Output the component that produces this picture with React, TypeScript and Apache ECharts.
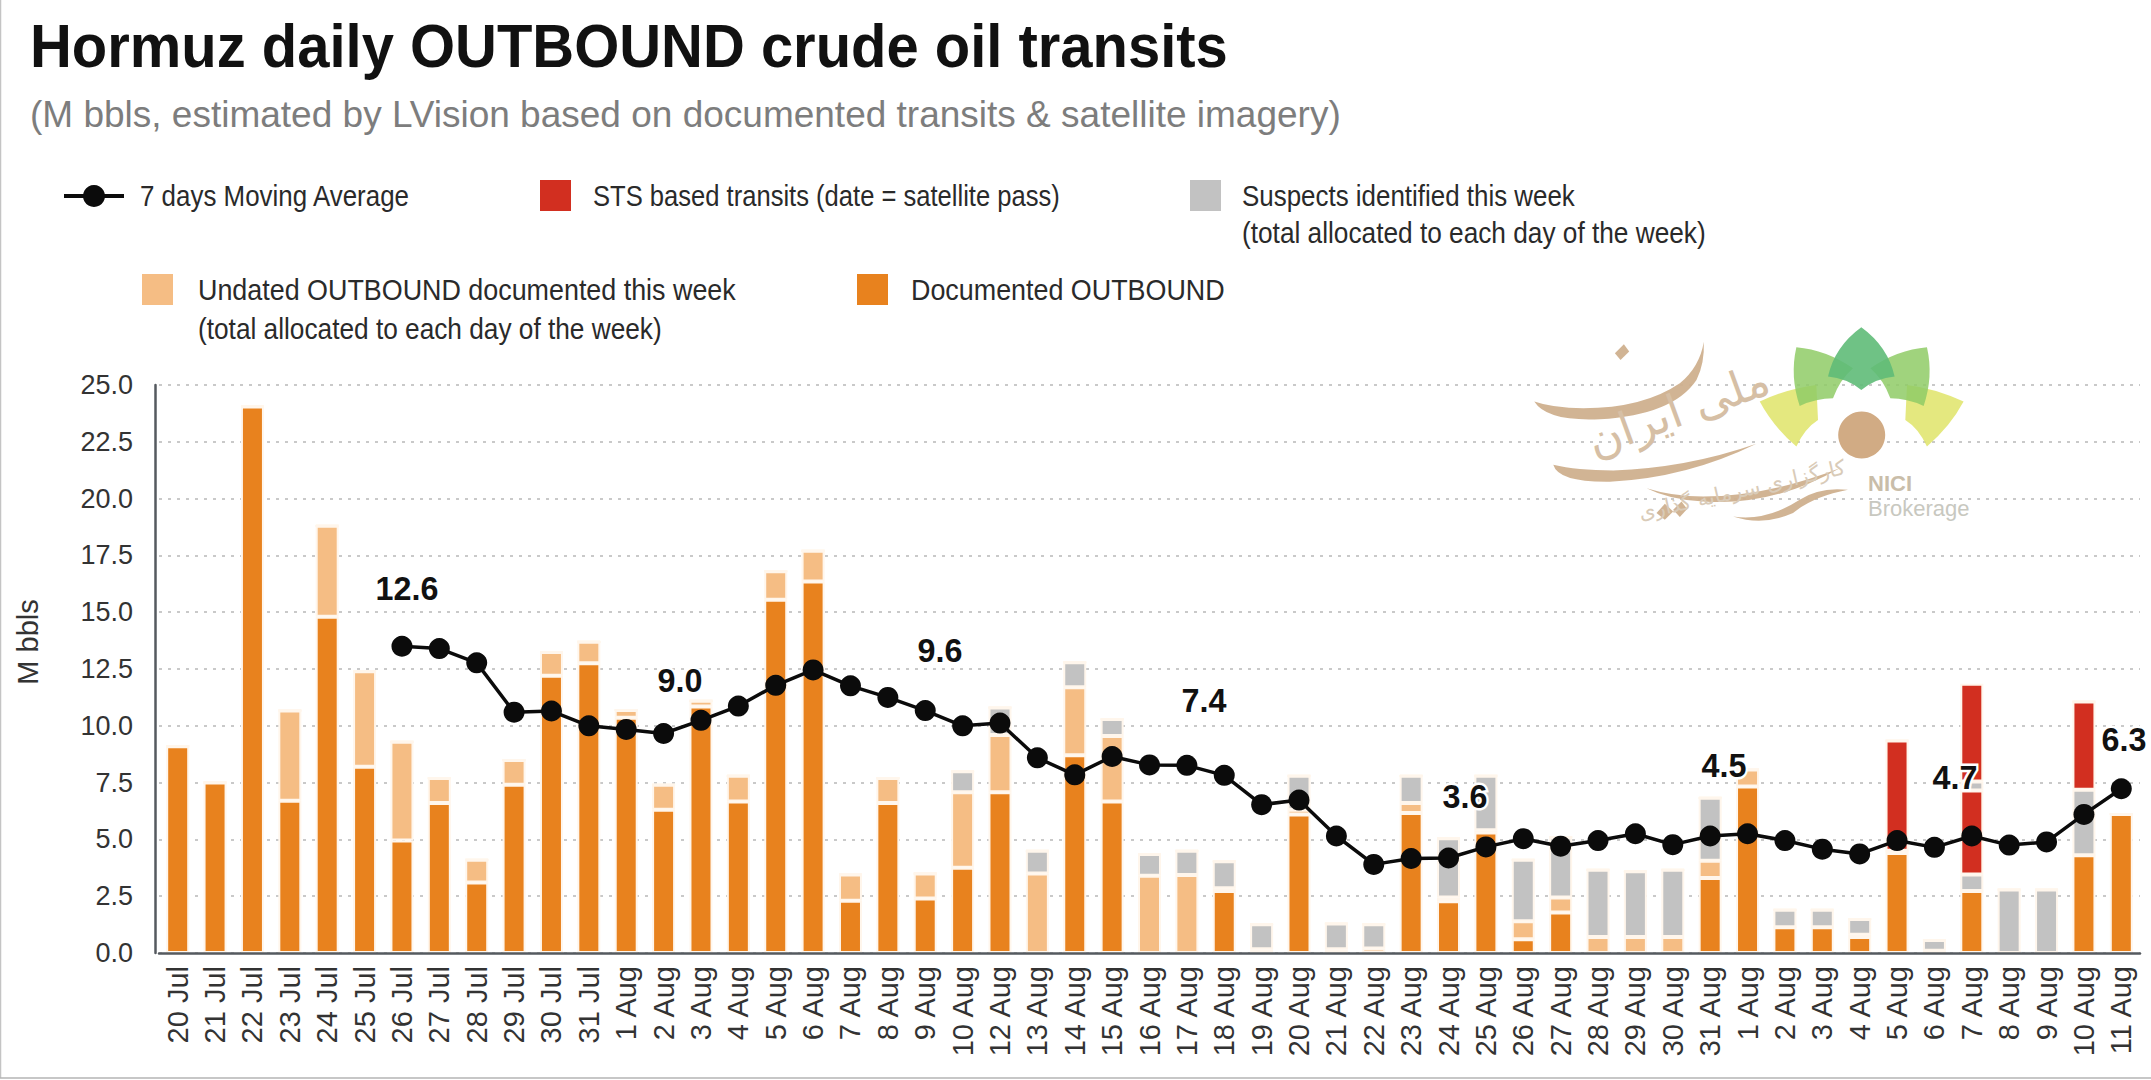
import React, { useEffect, useRef } from "react";
import * as echarts from "echarts";

const days = ["20 Jul","21 Jul","22 Jul","23 Jul","24 Jul","25 Jul","26 Jul","27 Jul","28 Jul","29 Jul","30 Jul","31 Jul",
  "1 Aug","2 Aug","3 Aug","4 Aug","5 Aug","6 Aug","7 Aug","8 Aug","9 Aug","10 Aug",
  "12 Aug","13 Aug","14 Aug","15 Aug","16 Aug","17 Aug","18 Aug","19 Aug","20 Aug","21 Aug","22 Aug","23 Aug","24 Aug","25 Aug","26 Aug","27 Aug","28 Aug","29 Aug","30 Aug","31 Aug",
  "1 Aug","2 Aug","3 Aug","4 Aug","5 Aug","6 Aug","7 Aug","8 Aug","9 Aug","10 Aug","11 Aug"];

const documented = [9.1,7.5,24.05,6.7,14.8,8.2,4.95,6.6,3.1,7.4,12.2,12.75,
  10.35,6.3,10.85,6.67,15.55,16.35,2.3,6.6,2.4,3.75,
  7.07,0,8.7,6.67,0,0,2.73,0,6.1,0,0,6.16,2.28,5.3,0.6,1.78,0,0,0,3.3,
  7.33,1.13,1.13,0.7,4.4,0,2.73,0,0,4.3,6.12];
const undated = [0,0,0,3.97,4.0,4.2,4.35,1.1,1.0,1.1,1.05,0.95,
  0.35,1.1,0.25,1.13,1.25,1.35,1.15,1.1,1.1,3.32,
  2.53,3.5,3.0,2.88,3.4,3.43,0.12,0.16,0.2,0.16,0.2,0.44,0.16,0.1,0.8,0.66,0.7,0.7,0.7,0.76,
  0.75,0,0,0.1,0.1,0.1,0,0,0,0,0];
const suspects = [0,0,0,0,0,0,0,0,0,0,0,0,
  0,0,0,0,0,0,0,0,0,0.93,
  1.2,1.0,1.1,0.75,0.96,1.07,1.19,1.11,1.5,1.14,1.07,1.2,2.61,2.4,2.7,2.66,2.96,2.9,2.96,2.77,
  0,0.77,0.77,0.7,0,0.47,0.72,2.79,2.79,2.89,0];
const stsLower = [0,0,0,0,0,0,0,0,0,0,0,0,
  0,0,0,0,0,0,0,0,0,0,
  0,0,0,0,0,0,0,0,0,0,0,0,0,0,0,0,0,0,0,0,
  0,0,0,0,4.85,0,3.7,0,0,3.88,0];
const suspectsUpper = [0,0,0,0,0,0,0,0,0,0,0,0,
  0,0,0,0,0,0,0,0,0,0,
  0,0,0,0,0,0,0,0,0,0,0,0,0,0,0,0,0,0,0,0,
  0,0,0,0,0,0,0.4,0,0,0,0];
const stsUpper = [0,0,0,0,0,0,0,0,0,0,0,0,
  0,0,0,0,0,0,0,0,0,0,
  0,0,0,0,0,0,0,0,0,0,0,0,0,0,0,0,0,0,0,0,
  0,0,0,0,0,0,4.3,0,0,0,0];
const movingAverage = [null,null,null,null,null,null,13.5,13.4,12.77,10.6,10.65,10.0,
  9.84,9.66,10.24,10.87,11.78,12.46,11.76,11.25,10.67,10.0,
  10.12,8.59,7.84,8.65,8.28,8.26,7.82,6.53,6.73,5.15,3.9,4.16,4.18,4.67,5.03,4.7,4.95,5.25,4.77,5.15,
  5.25,4.95,4.57,4.36,4.95,4.65,5.15,4.75,4.89,6.1,7.23];

const callouts = ["12.6","9.0","9.6","7.4","3.6","4.5","4.7","6.3"];
const calloutX = [407,680,940,1204,1465,1724,1955,2124];
const calloutY = [588,680,650,700,796,765,777,739];

const ORANGE = "#e8821e";
const LIGHT = "#f5bd84";
const GRAY = "#c2c2c2";
const RED = "#d22f20";
const TAN = "#cfb08e";

const logoTop = "M1085 82Q1165 140 1185 230Q1130 235 1085 270Q1040 235 985 230Q1005 140 1085 82Z";
const logoMid = "M890 142Q980 150 1060 205Q1020 240 1000 295Q950 295 900 318Q870 230 890 142Z";
const logoLow = "M780 305Q865 265 950 255L955 360Q915 385 890 440Q820 380 780 305Z";
const swashA = "M103 305Q140 365 300 358Q520 345 590 240Q615 190 612 125Q600 200 540 250Q430 325 250 325Q160 325 103 305Z";
const swashB = "M160 495Q175 548 330 546Q560 535 770 432Q560 505 340 512Q230 512 160 495Z";
const swashC = "M440 565Q520 590 610 590Q800 590 1020 505Q820 620 610 605Q510 600 440 565Z";
const swashD = "M700 650Q800 665 900 600Q960 560 1045 570Q940 590 880 640Q790 680 700 650Z";
const dotA = "M345 160L372 133L388 155L362 180Z";
const dotB = "M470 640L495 612L520 635L495 660Z";
const dotC = "M520 630L545 605L562 628L540 652Z";

echarts.graphic.registerShape("logoTop", echarts.graphic.extendPath(logoTop, {}));
echarts.graphic.registerShape("logoMid", echarts.graphic.extendPath(logoMid, {}));
echarts.graphic.registerShape("logoLow", echarts.graphic.extendPath(logoLow, {}));
[["swashA",swashA],["swashB",swashB],["swashC",swashC],["swashD",swashD],["dotA",dotA],["dotB",dotB],["dotC",dotC]].forEach(([n,d]) => {
  echarts.graphic.registerShape(n, echarts.graphic.extendPath(d, {}));
});

const LEGEND_FONT = "Liberation Sans, sans-serif";
const legendText = (x: number, y: number, text: string, scaleX: number) => ({
  type: "text", x, y, z: 20, scaleX, originX: 0,
  style: { text, font: `400 29px ${LEGEND_FONT}`, fill: "#2a2a2a", textVerticalAlign: "middle" },
});
const legendBox = (x: number, y: number, fill: string) => ({
  type: "rect", x, y, z: 20, shape: { width: 31, height: 31 }, style: { fill },
});

const logoPart = (type: string, fill: string, mirrored = false, opacity = 0.85) => ({
  type, z: 1,
  x: mirrored ? 1500 + 2170 / 3 : 1500, y: 300,
  scaleX: mirrored ? -1 / 3 : 1 / 3, scaleY: 1 / 3,
  style: { fill, opacity },
});

export default function App() {
  const ref = useRef<HTMLDivElement>(null);
  useEffect(() => {
    document.body.style.margin = "0";
    document.body.style.background = "#fff";
    const chart = echarts.init(ref.current!, undefined, { renderer: "svg" });
    const bar = (name: string, data: number[], color: string) => ({
      name, type: "bar", stack: "total", data, barWidth: 23, z: 3,
      itemStyle: { color, borderColor: "#fff6ec", borderWidth: 2 },
    });
    chart.setOption({
      animation: false,
      backgroundColor: "#ffffff",
      textStyle: { fontFamily: "Liberation Sans, sans-serif" },
      grid: { left: 159, right: 11, top: 385, bottom: 127 },
      xAxis: {
        type: "category", data: days, z: 8,
        axisLine: { lineStyle: { color: "#555a5f", width: 2.5 } },
        axisTick: { show: false },
        axisLabel: { rotate: 90, interval: 0, fontSize: 29, color: "#333", margin: 13, fontFamily: "Liberation Sans, sans-serif" },
      },
      yAxis: {
        type: "value", min: 0, max: 25, interval: 2.5, offset: 4,
        name: "M bbls", nameLocation: "middle", nameGap: 113, nameRotate: 90,
        nameTextStyle: { fontSize: 29, color: "#333", padding: [0, 0, 0, 54] },
        axisLine: { show: true, lineStyle: { color: "#555a5f", width: 2.5 } },
        axisTick: { show: false },
        axisLabel: { fontSize: 27, color: "#333", margin: 22, padding: [0, 0, 3, 0], formatter: (v: number) => v.toFixed(1) },
        splitLine: { show: true, lineStyle: { color: "#c9c9c9", type: [3, 6], width: 2 } },
      },
      series: [
        bar("Documented OUTBOUND", documented, ORANGE),
        bar("Undated OUTBOUND documented this week", undated, LIGHT),
        bar("Suspects identified this week", suspects, GRAY),
        bar("STS based transits (date = satellite pass)", stsLower, RED),
        bar("Suspects identified this week (upper)", suspectsUpper, GRAY),
        bar("STS based transits (upper)", stsUpper, RED),
        {
          name: "7 days Moving Average", type: "line", data: movingAverage, z: 6,
          symbol: "circle", symbolSize: 21, showSymbol: true,
          lineStyle: { color: "#0b0b0b", width: 3.5 }, itemStyle: { color: "#0b0b0b" },
          connectNulls: false,
        },
      ],
      graphic: [
        { type: "line", z: 0, shape: { x1: 0.5, y1: 0, x2: 0.5, y2: 1078 }, style: { stroke: "#c4c4c4", lineWidth: 1.5 } },
        { type: "line", z: 0, shape: { x1: 0, y1: 1078, x2: 2151, y2: 1078 }, style: { stroke: "#b5b5b5", lineWidth: 1.5 } },
        { type: "text", x: 30, y: 46, z: 20, scaleX: 0.935, style: { text: "Hormuz daily OUTBOUND crude oil transits", font: "700 62px Liberation Sans, sans-serif", fill: "#111", textVerticalAlign: "middle" } },
        { type: "text", x: 30, y: 114, z: 20, style: { text: "(M bbls, estimated by LVision based on documented transits & satellite imagery)", font: "400 37px Liberation Sans, sans-serif", fill: "#7d7d7d", textVerticalAlign: "middle" } },
        { type: "line", z: 20, shape: { x1: 64, y1: 196, x2: 124, y2: 196 }, style: { stroke: "#0b0b0b", lineWidth: 4 } },
        { type: "circle", z: 20, shape: { cx: 94, cy: 196, r: 11 }, style: { fill: "#0b0b0b" } },
        legendText(140, 196, "7 days Moving Average", 0.894),
        legendBox(540, 180, RED),
        legendText(593, 196, "STS based transits (date = satellite pass)", 0.882),
        legendBox(1190, 180, GRAY),
        legendText(1242, 196, "Suspects identified this week", 0.894),
        legendText(1242, 233, "(total allocated to each day of the week)", 0.905),
        legendBox(142, 274, LIGHT),
        legendText(198, 290, "Undated OUTBOUND documented this week", 0.927),
        legendText(198, 329, "(total allocated to each day of the week)", 0.905),
        legendBox(857, 274, ORANGE),
        legendText(911, 290, "Documented OUTBOUND", 0.927),
        ...callouts.map((text, i) => ({
          type: "text", x: calloutX[i], y: calloutY[i], z: 12, scaleX: 0.95,
          style: { text, font: "700 34px Liberation Sans, sans-serif", fill: "#111", textAlign: "center", textVerticalAlign: "middle", stroke: "#ffffff", lineWidth: 5 },
        })),
        logoPart("logoLow", "#dfe468"), logoPart("logoLow", "#dfe468", true),
        logoPart("logoMid", "#8fcb66"), logoPart("logoMid", "#8fcb66", true),
        logoPart("logoTop", "#5fbb78", false, 0.9),
        { type: "circle", z: 1, shape: { cx: 1861.7, cy: 435, r: 23.5 }, style: { fill: "#d1ab84" } },
        ...["swashA","swashB","swashC","swashD","dotA","dotB","dotC"].map((n) => logoPart(n, TAN, false, 0.95)),
        { type: "text", x: 1678, y: 410, z: 1, rotation: 0.35, style: { text: "ملی ایران", font: "400 46px DejaVu Sans, sans-serif", fill: "#d6bfa5", textAlign: "center", textVerticalAlign: "middle" } },
        { type: "text", x: 1742, y: 490, z: 1, rotation: 0.22, style: { text: "کارگزاری سرمایه گذاری", font: "400 21px DejaVu Sans, sans-serif", fill: "#d9cbb8", textAlign: "center", textVerticalAlign: "middle" } },
        { type: "text", x: 1868, y: 483, z: 1, style: { text: "NICI", font: "700 22px Liberation Sans, sans-serif", fill: "#c9bda9", textVerticalAlign: "middle" } },
        { type: "text", x: 1868, y: 508, z: 1, style: { text: "Brokerage", font: "400 22px Liberation Sans, sans-serif", fill: "#c8c8c0", textVerticalAlign: "middle" } },
      ],
    });
    return () => chart.dispose();
  }, []);
  return <div ref={ref} style={{ width: 2151, height: 1080 }} />;
}
